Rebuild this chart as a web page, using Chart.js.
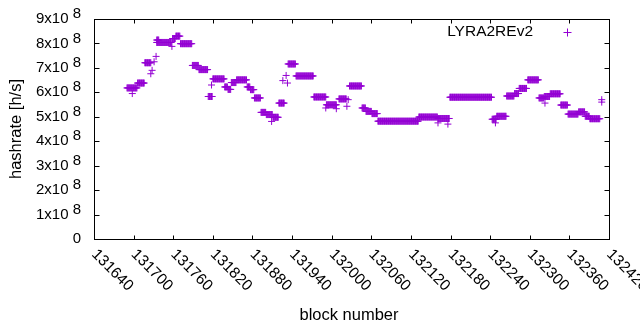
<!DOCTYPE html>
<html>
<head>
<meta charset="utf-8">
<script src="https://cdn.jsdelivr.net/npm/chart.js@4"></script>
<style>
  html, body { margin: 0; padding: 0; background: #fff; }
</style>
</head>
<body>
<canvas id="hashChart" width="640" height="330"></canvas>
<script>
// tick labels
const xTicks = [131640, 131700, 131760, 131820, 131880, 131940, 132000,
  132060, 132120, 132180, 132240, 132300, 132360, 132420];
const yTicks = [0, 1e8, 2e8, 3e8, 4e8, 5e8, 6e8, 7e8, 8e8, 9e8];

// runs of blocks with the same hashrate estimate (first block, last block, h/s)
const runStart = [131690, 131706, 131717, 131735, 131735, 131759, 131764, 131771,
  131789, 131799, 131813, 131820, 131838, 131843, 131848, 131856, 131872, 131877,
  131883, 131893, 131901, 131911, 131920, 131934, 131946, 131973, 131992, 132011,
  132027, 132046, 132052, 132061, 132070, 132132, 132161, 132179, 132243, 132250,
  132265, 132277, 132284, 132297, 132314, 132322, 132331, 132347, 132358, 132374,
  132384, 132391];
const runEnd = [131705, 131716, 131726, 131757, 131738, 131763, 131770, 131788,
  131798, 131812, 131819, 131837, 131842, 131847, 131855, 131871, 131876, 131882,
  131892, 131900, 131910, 131919, 131928, 131945, 131972, 131991, 132007, 132022,
  132045, 132051, 132060, 132069, 132131, 132160, 132178, 132242, 132249, 132264,
  132276, 132283, 132295, 132313, 132321, 132330, 132346, 132357, 132373, 132383,
  132390, 132406];
const runHash = [6.18e8, 6.38e8, 7.21e8, 8.04e8, 8.14e8, 8.20e8, 8.30e8, 7.99e8,
  7.10e8, 6.93e8, 5.83e8, 6.55e8, 6.22e8, 6.12e8, 6.40e8, 6.51e8, 6.22e8, 6.11e8,
  5.77e8, 5.18e8, 5.09e8, 4.98e8, 5.56e8, 7.16e8, 6.67e8, 5.81e8, 5.49e8, 5.73e8,
  6.26e8, 5.36e8, 5.22e8, 5.13e8, 4.82e8, 4.99e8, 4.93e8, 5.80e8, 4.90e8, 5.02e8,
  5.85e8, 5.95e8, 6.16e8, 6.51e8, 5.77e8, 5.83e8, 5.94e8, 5.48e8, 5.11e8, 5.20e8,
  5.02e8, 4.92e8];

// isolated blocks
const singleBlock = [131698, 131726, 131728, 131731, 131734, 131758, 131818, 131909,
  131926, 131931, 131933, 131991, 132007, 132023, 132025, 132161, 132176, 132248,
  132323, 132409, 132409];
const singleHash = [5.95e8, 6.76e8, 6.90e8, 7.25e8, 7.47e8, 7.88e8, 6.30e8, 4.81e8,
  6.48e8, 6.69e8, 6.38e8, 5.36e8, 5.33e8, 5.43e8, 5.70e8, 4.75e8, 4.70e8, 4.75e8,
  5.56e8, 5.70e8, 5.60e8];

const PURPLE = '#9400d3';
const FONT = '"Liberation Sans", Arial, sans-serif';

const points = [];
runStart.forEach((s, i) => {
  for (let b = s; b <= runEnd[i]; b++) points.push({x: b, y: runHash[i]});
});
singleBlock.forEach((b, i) => points.push({x: b, y: singleHash[i]}));

// gnuplot-like frame: border, inward ticks on all sides, labels, key
const frame = {
  id: 'frame',
  afterDraw(chart) {
    const {ctx, chartArea: a} = chart;
    const xs = chart.scales.x, ys = chart.scales.y;
    const L = Math.round(a.left) + 0.5, R = Math.round(a.right) + 0.5;
    const T = Math.round(a.top) + 0.5, B = Math.round(a.bottom) + 0.5;
    ctx.save();
    ctx.strokeStyle = '#000';
    ctx.lineWidth = 1;
    ctx.beginPath();
    xTicks.forEach(t => {
      const px = Math.round(xs.getPixelForValue(t)) + 0.5;
      ctx.moveTo(px, B); ctx.lineTo(px, B - 4);
      ctx.moveTo(px, T); ctx.lineTo(px, T + 4);
    });
    yTicks.forEach(t => {
      const py = Math.round(ys.getPixelForValue(t)) + 0.5;
      ctx.moveTo(L, py); ctx.lineTo(L + 5, py);
      ctx.moveTo(R, py); ctx.lineTo(R - 5, py);
    });
    ctx.stroke();
    ctx.strokeRect(L, T, R - L, B - T);

    ctx.fillStyle = '#000';
    // y tick labels like 9x10^8
    ctx.font = '15px ' + FONT;
    ctx.textAlign = 'right';
    ctx.textBaseline = 'middle';
    yTicks.forEach(t => {
      const py = ys.getPixelForValue(t);
      if (t === 0) { ctx.fillText('0', 81, py); return; }
      const sup = String(Math.floor(Math.log10(t)));
      const wSup = ctx.measureText(sup).width;
      ctx.fillText(sup, 81, py - 5);
      ctx.fillText((t / 1e8) + 'x10 ', 81 - wSup, py);
    });
    // x tick labels, rotated down-right
    ctx.font = '15.5px ' + FONT;
    ctx.textAlign = 'left';
    xTicks.forEach(t => {
      const px = xs.getPixelForValue(t);
      ctx.save();
      ctx.translate(px, 252);
      ctx.rotate(Math.PI / 4);
      ctx.fillText(String(t), 0, 0);
      ctx.restore();
    });
    // axis titles
    ctx.font = '16.5px ' + FONT;
    ctx.textAlign = 'center';
    ctx.fillText('block number', 349, 315);
    ctx.save();
    ctx.translate(16.5, 129);
    ctx.rotate(-Math.PI / 2);
    ctx.fillText('hashrate [h/s]', 0, 0);
    ctx.restore();
    // key
    ctx.font = '15.5px ' + FONT;
    ctx.textAlign = 'right';
    ctx.fillText('LYRA2REv2', 533, 31.5);
    ctx.strokeStyle = PURPLE;
    ctx.beginPath();
    ctx.moveTo(563.5, 32.5); ctx.lineTo(571.5, 32.5);
    ctx.moveTo(567.5, 28.5); ctx.lineTo(567.5, 36.5);
    ctx.stroke();
    ctx.restore();
  }
};

new Chart(document.getElementById('hashChart'), {
  type: 'scatter',
  data: {
    datasets: [{
      label: 'LYRA2REv2',
      data: points,
      borderColor: PURPLE,
      backgroundColor: PURPLE,
      pointStyle: 'cross',
      pointRadius: 3.5,
      pointBorderWidth: 1,
      showLine: false
    }]
  },
  options: {
    responsive: false,
    animation: false,
    events: [],
    layout: {padding: {left: 94, right: 31, top: 19, bottom: 91}},
    plugins: {legend: {display: false}, tooltip: {enabled: false}},
    scales: {
      x: {type: 'linear', min: 131640, max: 132420, display: false},
      y: {type: 'linear', min: 0, max: 9e8, display: false}
    }
  },
  plugins: [frame]
});
</script>
</body>
</html>
